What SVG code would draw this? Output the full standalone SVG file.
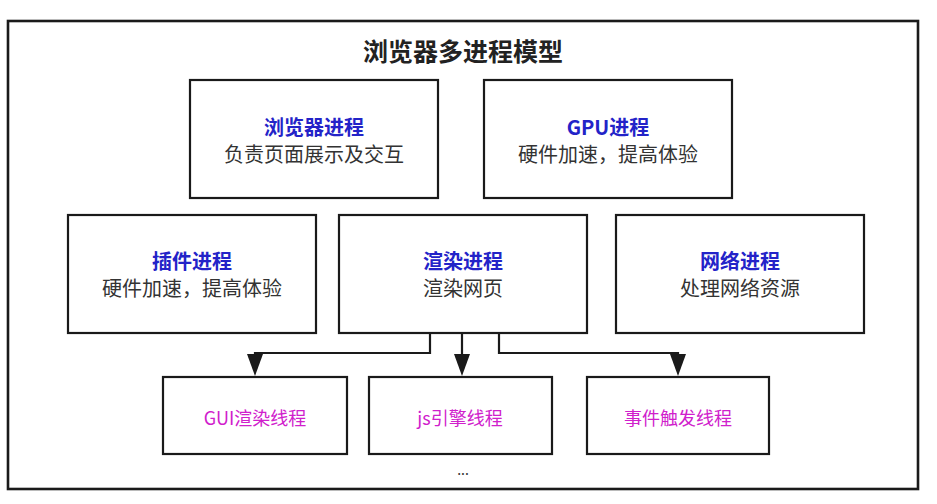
<svg xmlns="http://www.w3.org/2000/svg" width="937" height="504" viewBox="0 0 937 504">
<style>
text{font-family:"Noto Sans CJK SC","Noto Sans",sans-serif;text-anchor:middle}
.box{fill:#fff;stroke:#1a1a1a;stroke-width:2.2}
.t{font-size:20px;font-weight:bold;fill:#2323c8}
.s{font-size:20px;fill:#333}
.p{font-size:18px;fill:#d020cc}
.c{fill:none;stroke:#1a1a1a;stroke-width:2.2}
.a{fill:#1a1a1a}
</style>
<rect x="0" y="0" width="937" height="504" fill="#fff"/>
<rect id="frame" x="8" y="21" width="910" height="468" fill="none" stroke="#1a1a1a" stroke-width="2.6"/>
<text x="463" y="61" style="font-size:25px;font-weight:bold;fill:#222">浏览器多进程模型</text>
<g id="browser"><rect class="box" x="190" y="80" width="248" height="118"/><text class="t" x="314" y="135">浏览器进程</text><text class="s" x="314" y="162">负责页面展示及交互</text></g>
<g id="gpu"><rect class="box" x="484" y="80" width="248" height="118"/><text class="t" x="608" y="135">GPU进程</text><text class="s" x="608" y="162">硬件加速，提高体验</text></g>
<g id="plugin"><rect class="box" x="68" y="215" width="248" height="118"/><text class="t" x="192" y="269">插件进程</text><text class="s" x="192" y="296">硬件加速，提高体验</text></g>
<g id="render"><rect class="box" x="339" y="215" width="248" height="118"/><text class="t" x="463" y="269">渲染进程</text><text class="s" x="463" y="296">渲染网页</text></g>
<g id="network"><rect class="box" x="616" y="215" width="248" height="118"/><text class="t" x="740" y="269">网络进程</text><text class="s" x="740" y="296">处理网络资源</text></g>
<g id="gui"><rect class="box" x="163" y="377" width="184" height="77"/><text class="p" x="255" y="425">GUI渲染线程</text></g>
<g id="js"><rect class="box" x="369" y="377" width="183" height="77"/><text class="p" x="460" y="425">js引擎线程</text></g>
<g id="event"><rect class="box" x="587" y="377" width="182" height="77"/><text class="p" x="678" y="425">事件触发线程</text></g>
<g id="connectors">
<path class="c" d="M430,334 V353 H255 V370"/>
<path class="c" d="M462,334 V370"/>
<path class="c" d="M499,334 V353 H678 V370"/>
<path class="a" d="M247,354 L263,354 L255,376 Z"/>
<path class="a" d="M454,354 L470,354 L462,376 Z"/>
<path class="a" d="M670,354 L686,354 L678,376 Z"/>
</g>
<text x="463" y="475" style="font-size:14px;fill:#333">...</text>
</svg>
